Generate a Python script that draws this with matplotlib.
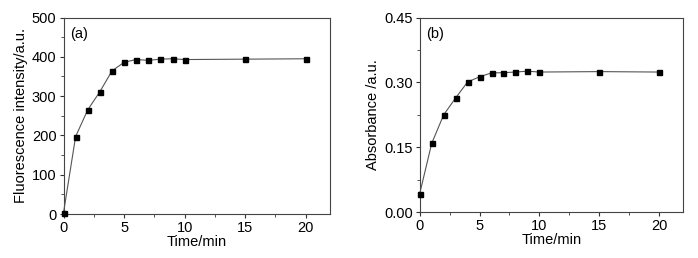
import matplotlib
matplotlib.use("Agg")
import matplotlib.pyplot as plt
from matplotlib.ticker import MultipleLocator

plt.rcParams['font.family'] = ['Liberation Sans', 'DejaVu Sans']

time_min = [0, 1, 2, 3, 4, 5, 6, 7, 8, 9, 10, 15, 20]
fluorescence = [3, 197, 265, 311, 364, 386, 393, 391, 394, 395, 393, 394, 395]
absorbance = [0.043, 0.159, 0.225, 0.264, 0.301, 0.313, 0.322, 0.3225, 0.324, 0.326, 0.324, 0.325, 0.324]

W, H = 698, 258
fig = plt.figure(figsize=(W / 100, H / 100), dpi=100)

def make_ax(left, right, top, bottom):
    return fig.add_axes([left / W, 1 - bottom / H, (right - left) / W, (bottom - top) / H])

ax1 = make_ax(63.5, 330, 17.5, 214)
ax2 = make_ax(419.7, 683, 17.5, 212.3)

for ax, y, ylim, ymaj, ylabel, tag in [
    (ax1, fluorescence, (0, 500), 100, 'Fluorescence intensity/a.u.', '(a)'),
    (ax2, absorbance, (0, 0.45), 0.15, 'Absorbance /a.u.', '(b)'),
]:
    ax.plot(time_min, y, color='#555555', lw=0.8, marker='s', ms=3.6,
            mfc='black', mec='black', zorder=3, clip_on=False)
    ax.set_xlim(0, 22)
    ax.set_ylim(*ylim)
    ax.xaxis.set_major_locator(MultipleLocator(5))
    ax.xaxis.set_minor_locator(MultipleLocator(2.5))
    ax.yaxis.set_major_locator(MultipleLocator(ymaj))
    ax.yaxis.set_minor_locator(MultipleLocator(ymaj / 2))
    ax.tick_params(which='major', direction='out', length=3, width=0.8,
                   labelsize=10.5, colors='#333333', labelcolor='black', pad=2)
    ax.tick_params(which='minor', direction='out', length=2, width=0.6, colors='#333333')
    ax.tick_params(top=False, right=False)
    for s in ax.spines.values():
        s.set_color('#444444')
        s.set_linewidth(0.8)
    ax.set_xlabel('Time/min', fontsize=10.5, labelpad=0)
    ax.set_ylabel(ylabel, fontsize=10.5, labelpad=3)
    ax.text(0.025, 0.95, tag, transform=ax.transAxes, fontsize=10.5, va='top', ha='left')

ax2.yaxis.set_major_formatter(matplotlib.ticker.FormatStrFormatter('%.2f'))

fig.savefig('out.png', dpi=100, facecolor='white')
